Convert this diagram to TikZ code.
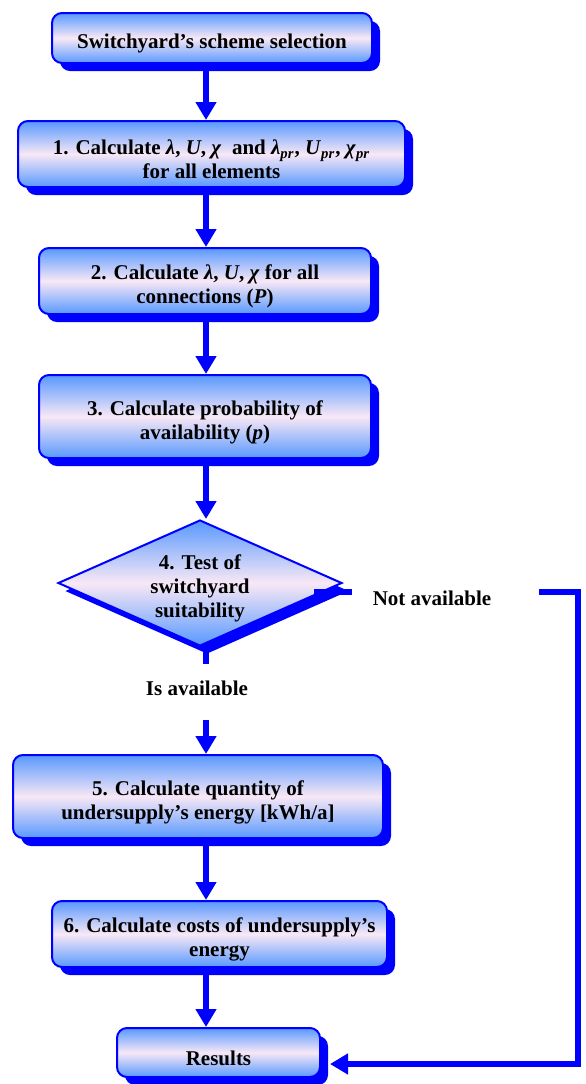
\documentclass[tikz,border=0pt]{standalone}
\usepackage{fontspec}
\setmainfont{Liberation Serif}
\usetikzlibrary{arrows.meta,positioning,calc,shapes.geometric,shadows}
\definecolor{FCblue}{RGB}{0,0,255}
\definecolor{FCsky}{RGB}{88,152,255}
\definecolor{FCpink}{RGB}{248,232,245}
\newcommand{\uplift}{\rule{0pt}{13pt}}

\begin{document}
\begin{tikzpicture}[x=0.5pt,y=-0.5pt,
    card/.style={draw=FCblue,line width=1pt,top color=FCsky,bottom color=FCsky,middle color=FCpink,
      inner sep=0pt,align=center,font=\fontsize{10.5}{12}\selectfont\bfseries},
    box/.style={card,rounded corners=5pt,
      drop shadow={shadow xshift=4pt,shadow yshift=-4pt,fill=FCblue,opacity=1}},
    test/.style={card,shape=diamond,aspect=2.25,
      drop shadow={shadow xshift=3.5pt,shadow yshift=-4pt,fill=FCblue,opacity=1}},
    flow/.style={FCblue,line width=3pt,-{Triangle[width=10pt,length=9pt]}},
    flowline/.style={FCblue,line width=3pt},
    lbl/.style={font=\fontsize{10.5}{12}\selectfont\bfseries}]
    \useasboundingbox (0,0) rectangle (585,1084);
    \node[box,minimum width=160pt,minimum height=25pt] (b0) at (212,38) {\uplift Switchyard’s scheme selection};
    \node[box,minimum width=193.5pt,minimum height=33pt] (b1) at (211.5,154)
      {\uplift 1. Calculate \textit{λ}, \textit{U}, \textit{χ}~ and \textit{λ}\textsubscript{\textit{pr}}, \textit{U}\textsubscript{\textit{pr}}, \textit{χ}\textsubscript{\textit{pr}}\\for all elements};
    \node[box,minimum width=166pt,minimum height=33pt] (b2) at (205,281)
      {\uplift 2. Calculate \textit{λ}, \textit{U}, \textit{χ} for all\\connections (\textit{P})};
    \node[box,minimum width=166pt,minimum height=41.5pt] (b3) at (205,416.5)
      {\uplift 3. Calculate probability of\\availability (\textit{p})};
    \node[test,minimum width=142pt,minimum height=63pt] (dia) at (200,583)
      {\uplift 4. Test of\\switchyard\\suitability};
    \node[box,minimum width=185pt,minimum height=41.5pt] (b5) at (198,796.5)
      {\uplift 5. Calculate quantity of\\undersupply’s energy [kWh/a]};
    \node[box,minimum width=167.5pt,minimum height=33pt] (b6) at (219.5,934)
      {\uplift 6. Calculate costs of undersupply’s\\energy};
    \node[box,minimum width=101.5pt,minimum height=24.5pt] (res) at (218.5,1052.5) {\uplift Results};
    \node[lbl] (isav) at (197,688) {Is available};
    \node[lbl] (notav) at (432,598) {Not available};

    \coordinate (axis) at (206,0);
    \coordinate (isA) at (206,664);
    \coordinate (isB) at (206,720);
    \coordinate (naL) at (352,592);
    \coordinate (naR) at (539,592);
    \coordinate (back) at (578,1064);
    \foreach \a/\b in {b0/b1,b1/b2,b2/b3,b3/dia,b5/b6,b6/res}
      \draw[flow] (\a.south -| axis) -- (\b.north -| axis);
    \draw[flowline] (dia.south -| axis) -- (isA);
    \draw[flow] (isB) -- (b5.north -| axis);
    \draw[flowline] ($(dia.east)+(-29,9)$) -- (naL);
    \draw[flow] (naR) -| (back) -- ($(res.east |- back)+(9,0)$);
  \end{tikzpicture}
\end{document}
